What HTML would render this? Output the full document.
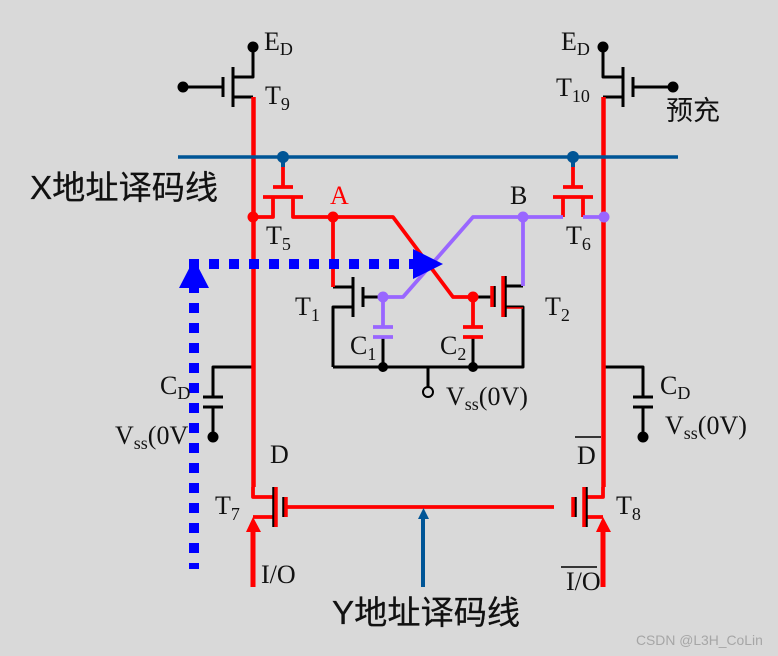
<!DOCTYPE html>
<html><head><meta charset="utf-8"><style>
html,body{margin:0;padding:0;background:#d9d9d9}
svg{display:block}
text{font-family:"Liberation Serif","Noto Serif CJK SC",serif;font-size:26px;fill:#111}
.s{font-size:18px}
.r{fill:#f00}
.c{font-family:"Liberation Sans","Noto Sans CJK SC",sans-serif;font-size:33.2px;stroke:#111;stroke-width:.25px}
</style></head><body>
<svg width="778" height="656" viewBox="0 0 778 656" xmlns="http://www.w3.org/2000/svg">
<rect width="778" height="656" fill="#d9d9d9"/>
<g fill="none" stroke="#000" stroke-width="3" stroke-linejoin="round">
<!-- T9 -->
<path d="M183 87H223M223 77V97M233 67V107M253 47V77H233M233 97H253"/>
<!-- T10 -->
<path d="M673 87H633M633 77V97M623 67V107M603 47V77H623M623 97H603"/>
<!-- T1 / T2 -->
<path d="M333 287H353M353 277V317M363 287V307M363 297H383M333 367V307H353M333 367H523V307H504M428 367V387M383 337V367M473 337V367M473 297H493M504 286H523"/>
<!-- CD left -->
<path d="M253 367H213V397M203 397H223M203 407H223M213 407V437"/>
<!-- CD right -->
<path d="M603 367H643V397M633 397H653M633 407H653M643 407V437"/>
<path d="M575 437H601M561 567H597" stroke-width="1.5"/>
</g>
<g fill="#000">
<circle cx="253" cy="47" r="5.5"/><circle cx="603" cy="47" r="5.5"/>
<circle cx="183" cy="87" r="5.5"/><circle cx="673" cy="87" r="5.5"/>
<circle cx="383" cy="367" r="5"/><circle cx="473" cy="367" r="5"/>
<circle cx="213" cy="437" r="5.5"/><circle cx="643" cy="437" r="5.5"/>
</g>
<circle cx="428" cy="392" r="5" fill="none" stroke="#000" stroke-width="2"/>
<!-- red wiring -->
<g fill="none" stroke="#f00" stroke-linejoin="round">
<path d="M253.5 97V487" stroke-width="4.5"/>
<path d="M603.5 97V487" stroke-width="4.5"/>
<path d="M253 217H273V197M263 197H303M293 197V217H393L453 297H473V327M273 187H293M283 160V187M333 217V287M563 187H583M573 160V187M553 197H593M563 197V217M583 197V217M463 327H483M463 337H483" stroke-width="3.8"/>
<path d="M253 487V497H273M253 517H273M287 507H554M603 487V497H585M603 517H585" stroke-width="3.8"/>
<path d="M253 530V587M603 530V587" stroke-width="5"/>
<path d="M504 308H523" stroke-width="1.5"/>
</g>
<!-- black-backed red gate/channel bars -->
<path d="M274 487V527M284 497V517M586 487V527M575 497V517M505 276V317M494 286V307" stroke="#000" stroke-width="3.5" fill="none"/>
<path d="M276 487V527M286 497V517M584 487V527M573 497V517M503 276V317M492 286V307" stroke="#f00" stroke-width="3.5" fill="none"/>
<path d="M253 517L246 532H261ZM603 517L596 532H611Z" fill="#f00"/>
<circle cx="253" cy="217" r="5.5" fill="#f00"/>
<circle cx="333" cy="217" r="5.5" fill="#f00"/>
<circle cx="473" cy="297" r="5.5" fill="#f00"/>
<!-- purple -->
<g fill="none" stroke="#9966ff" stroke-width="3.8" stroke-linejoin="round">
<path d="M383 297H403L473 217H563M583 217H604M523 217V286M383 297V327M373 327H393M373 337H393"/>
</g>
<circle cx="383" cy="297" r="5.5" fill="#9966ff"/>
<circle cx="523" cy="217" r="5.5" fill="#9966ff"/>
<circle cx="604" cy="217" r="5.5" fill="#9966ff"/>
<!-- blue bus -->
<path d="M178 157H678" stroke="#005596" stroke-width="3.5"/>
<path d="M283 157V167M573 157V167" stroke="#005596" stroke-width="4"/>
<circle cx="283" cy="157" r="6" fill="#005596"/><circle cx="573" cy="157" r="6" fill="#005596"/>
<path d="M423 587V516" stroke="#005596" stroke-width="4"/>
<path d="M423.5 508L418 519H429Z" fill="#005596"/>
<!-- dotted blue -->
<path d="M189 264H413" stroke="#0000ff" stroke-width="10" stroke-dasharray="10 10"/>
<path d="M194 284V569" stroke="#0000ff" stroke-width="10" stroke-dasharray="10 10" stroke-dashoffset="1"/>
<path d="M443 264L413 249V279Z" fill="#0000ff"/>
<path d="M194 259L179 288H209Z" fill="#0000ff"/>
<!-- labels -->
<text x="264" y="50">E<tspan class="s" dy="5">D</tspan></text>
<text x="561" y="50">E<tspan class="s" dy="5">D</tspan></text>
<text x="265" y="104">T<tspan class="s" dy="6">9</tspan></text>
<text x="556" y="96">T<tspan class="s" dy="6">10</tspan></text>
<text x="266" y="244">T<tspan class="s" dy="6">5</tspan></text>
<text x="566" y="244">T<tspan class="s" dy="6">6</tspan></text>
<text x="330" y="204" class="r">A</text>
<text x="510" y="204">B</text>
<text x="295" y="315">T<tspan class="s" dy="6">1</tspan></text>
<text x="545" y="315">T<tspan class="s" dy="6">2</tspan></text>
<text x="350" y="354">C<tspan class="s" dy="6">1</tspan></text>
<text x="440" y="354">C<tspan class="s" dy="6">2</tspan></text>
<text x="446" y="405">V<tspan class="s" dy="5">ss</tspan><tspan dy="-5">(0V)</tspan></text>
<text x="160" y="394">C<tspan class="s" dy="5">D</tspan></text>
<text x="660" y="394">C<tspan class="s" dy="5">D</tspan></text>
<text x="115" y="444">V<tspan class="s" dy="5">ss</tspan><tspan dy="-5">(0V</tspan></text>
<text x="665" y="434">V<tspan class="s" dy="5">ss</tspan><tspan dy="-5">(0V)</tspan></text>
<text x="270" y="463">D</text>
<text x="577" y="464">D</text>
<text x="215" y="514">T<tspan class="s" dy="6">7</tspan></text>
<text x="616" y="514">T<tspan class="s" dy="6">8</tspan></text>
<text x="261" y="583">I/O</text>
<text x="566" y="590">I/O</text>
<text x="30" y="199" class="c">X地址译码线</text>
<text x="332" y="624" class="c">Y地址译码线</text>
<text x="666" y="120" style="font-family:'Liberation Sans','Noto Sans CJK SC',sans-serif;font-size:27px">预充</text>
<text x="636" y="645" style="font-family:'Liberation Sans',sans-serif;font-size:13.9px;fill:#a6a6a6">CSDN @L3H_CoLin</text>
</svg>
</body></html>
